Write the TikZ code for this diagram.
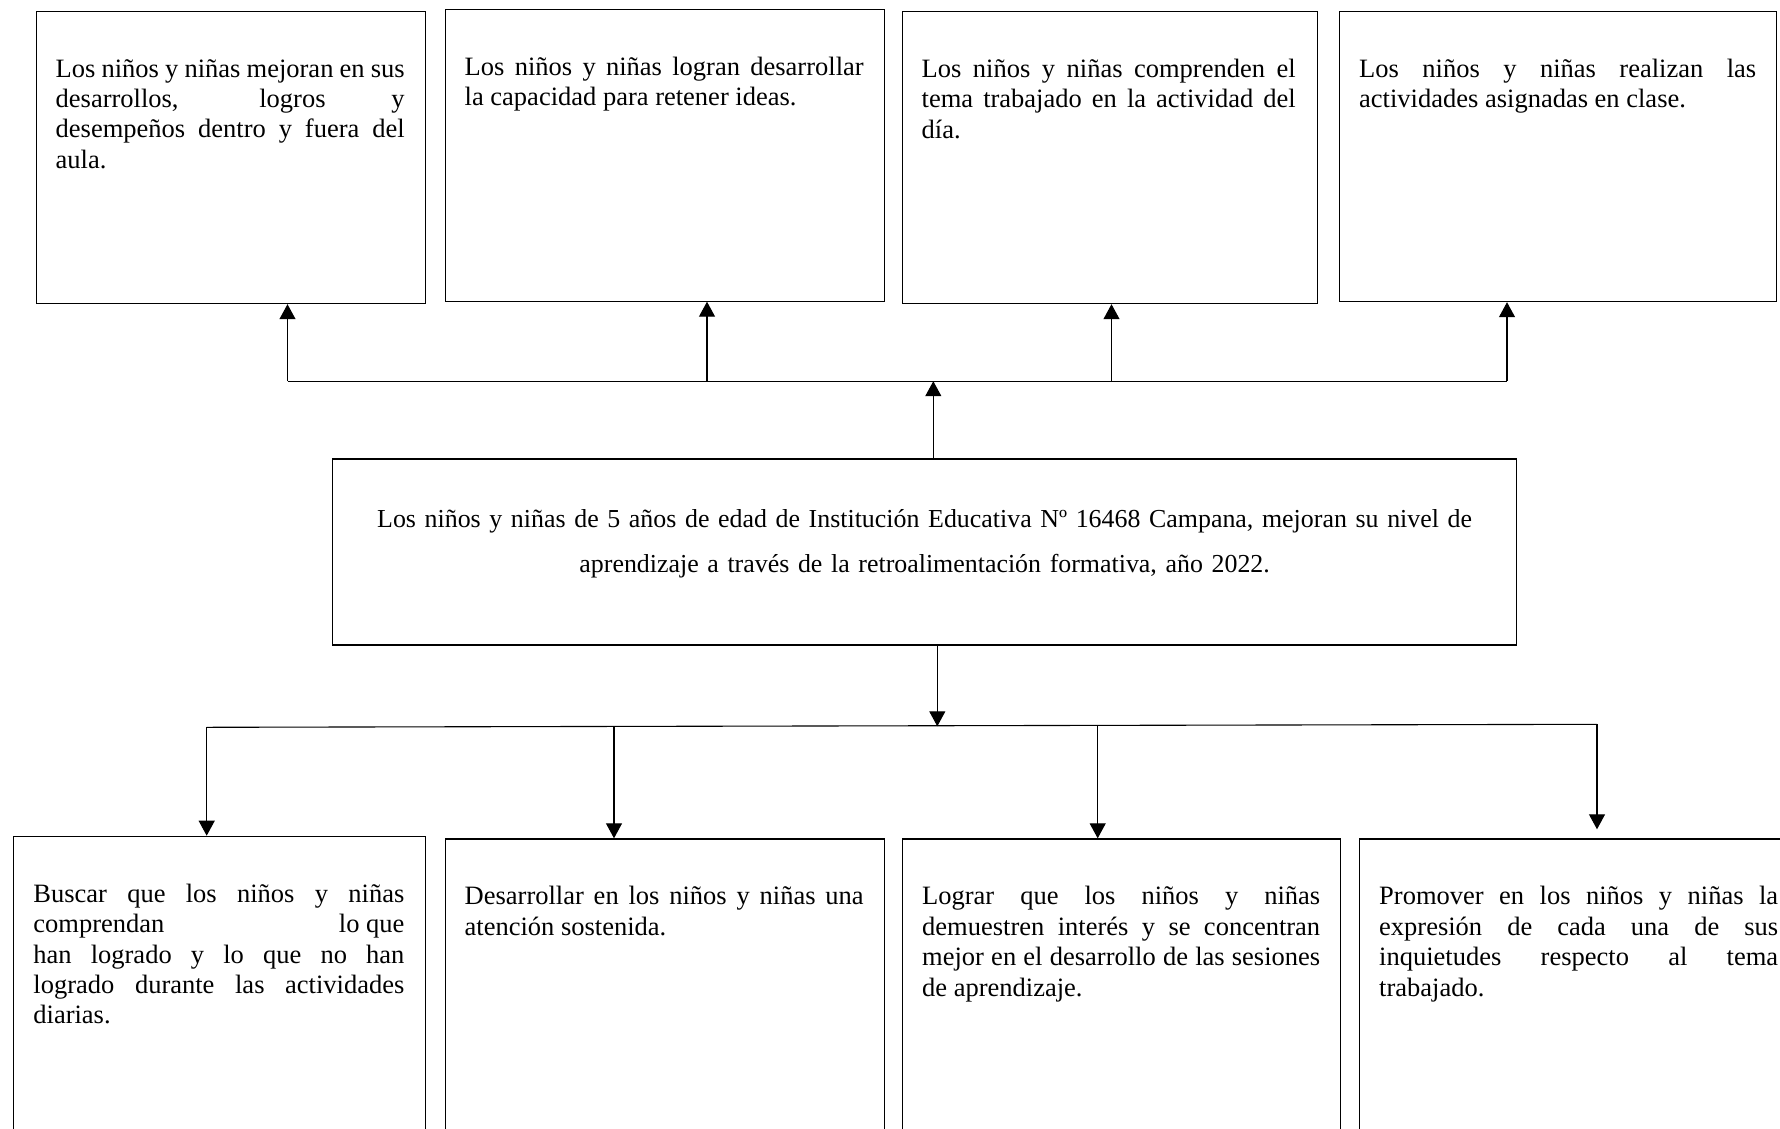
\documentclass[tikz,border=0pt]{standalone}
\usepackage{fontspec}
\setmainfont{Liberation Serif}
\usetikzlibrary{arrows.meta,positioning}
\setlength{\parindent}{0pt}

\tikzset{
	caja/.style={draw, line width=1.2pt, inner sep=0pt, anchor=north west},
	texto/.style={inner sep=0pt, align=justify, font=\fontsize{26.5}{30.4}\selectfont},
	linea/.style={line width=1.1pt},
	flecha/.style={line width=1.1pt, -{Triangle[length=15pt,width=16pt]}}
}

\begin{document}
\begin{tikzpicture}[x=1pt,y=-1pt]
			%%%%% START %%%%%
			\useasboundingbox (0,0) rectangle (1780,1128);
			\clip (0,0) rectangle (1780,1128);
			
			% fila de arriba
			\node[caja, minimum width=389pt, minimum height=292pt] (e1) at (35.5,11) {};
			\node[caja, minimum width=439pt, minimum height=291.5pt] (e2) at (444.5,9) {};
			\node[caja, minimum width=415pt, minimum height=292pt] (e3) at (901.5,11) {};
			\node[caja, minimum width=437pt, minimum height=290pt] (e4) at (1339,11) {};
			
			\node[texto, text width=349pt, below right=48pt and 20pt of e1.north west] (e1t) {Los niños y niñas mejoran en sus\linebreak desarrollos, logros y\linebreak desempeños dentro y fuera del\linebreak aula.};
			\node[texto, text width=399pt, below right=48pt and 20pt of e2.north west] (e2t) {Los niños y niñas logran desarrollar\linebreak la capacidad para retener ideas.};
			\node[texto, text width=374pt, below right=48pt and 20pt of e3.north west] (e3t) {Los niños y niñas comprenden el\linebreak tema trabajado en la actividad del\linebreak día.};
			\node[texto, text width=397pt, below right=48pt and 20pt of e4.north west] (e4t) {Los niños y niñas realizan las\linebreak actividades asignadas en clase.};
			
			% problema central
			\node[caja, minimum width=1184pt, minimum height=186pt] (p) at (332,458.3) {};
			\node[texto, align=center, text width=1140pt, font=\fontsize{25.9}{45.4}\selectfont, below=51pt of p.north] (pt) {Los niños y niñas de 5 años de edad de Institución Educativa Nº 16468 Campana, mejoran su nivel de\\ aprendizaje a través de la retroalimentación formativa, año 2022.};
			
			% fila de abajo
			\node[caja, minimum width=411.5pt, minimum height=320pt] (c1) at (13.2,835.7) {};
			\node[caja, minimum width=439pt, minimum height=320pt] (c2) at (444.5,838.3) {};
			\node[caja, minimum width=438pt, minimum height=320pt] (c3) at (902,838.3) {};
			\node[caja, minimum width=440pt, minimum height=320pt] (c4) at (1359,838.3) {};
			
			\node[texto, text width=371pt, below right=48pt and 20pt of c1.north west] (c1t) {Buscar que los niños y niñas\linebreak comprendan\hfill lo que\linebreak han logrado y lo que no han\linebreak logrado durante las actividades\linebreak diarias.};
			\node[texto, text width=399pt, below right=48pt and 20pt of c2.north west] (c2t) {Desarrollar en los niños y niñas una\linebreak atención sostenida.};
			\node[texto, text width=398pt, below right=48pt and 20pt of c3.north west] (c3t) {Lograr que los niños y niñas\linebreak demuestren interés y se concentran\linebreak mejor en el desarrollo de las sesiones\linebreak de aprendizaje.};
			\node[texto, text width=399pt, below right=48pt and 20pt of c4.north west] (c4t) {Promover en los niños y niñas la\linebreak expresión de cada una de sus\linebreak inquietudes respecto al tema\linebreak trabajado.};
			
			% conectores de arriba
			\coordinate (s1) at (287.5,381.2);
			\coordinate (s2) at (707,381.2);
			\coordinate (s3) at (1111.5,381.2);
			\coordinate (s4) at (1507,381.2);
			\coordinate (sm) at (933.3,381.2);
			\draw[linea] (s1) -- (s4);
			\foreach \i in {1,...,4}
				\draw[flecha] (s\i) -- (s\i |- e\i.south);
			\draw[flecha] (sm |- p.north) -- (sm);
			
			% conectores de abajo
			\coordinate (d1) at (206.7,727.3);
			\coordinate (d2) at (614,726.5);
			\coordinate (d3) at (1097.7,725.5);
			\coordinate (d4) at (1597,724.3);
			\coordinate (dm) at (937.3,726.3);
			\draw[linea] (d1) -- (d4);
			\draw[flecha] (dm |- p.south) -- (dm);
			\foreach \i in {1,2,3}
				\draw[flecha] (d\i) -- (d\i |- c\i.north);
			\draw[flecha, shorten >=9pt] (d4) -- (d4 |- c4.north);
			
			%%%%% END %%%%%
\end{tikzpicture}
\end{document}
